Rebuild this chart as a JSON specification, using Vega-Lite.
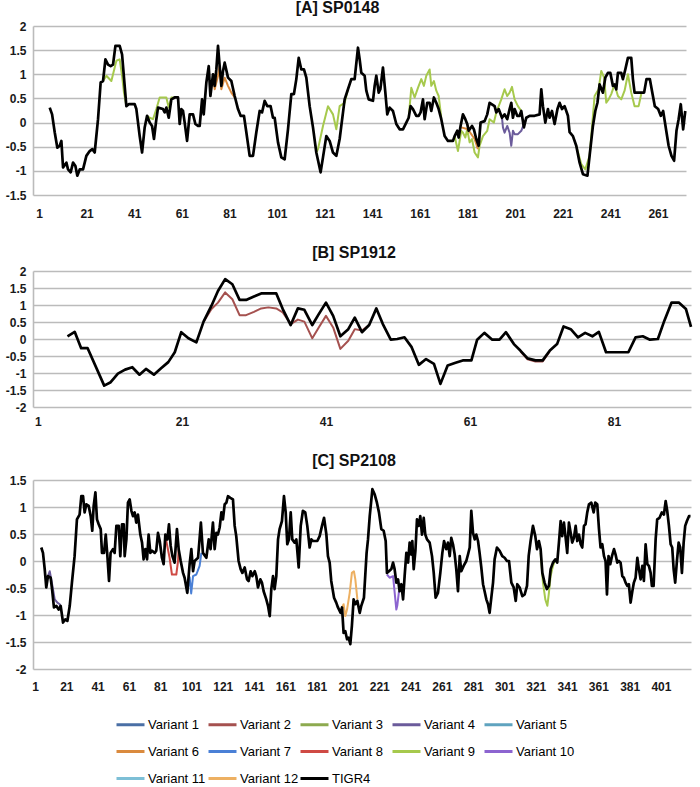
{
"$schema":"https://vega.github.io/schema/vega-lite/v6.json",
"background":"white",
"padding":{"left":5,"top":0,"right":0,"bottom":0},
"spacing":26,
"config":{"view":{"stroke":null},"font":"Liberation Sans",
"axis":{"labelFont":"Liberation Sans","labelFontSize":12,"labelFontWeight":"bold","labelColor":"#1a1a1a","gridColor":"#bbbbbb","gridWidth":1.6,"domainColor":"#bbbbbb","domainWidth":1.6},
"title":{"font":"Liberation Sans","fontSize":16,"fontWeight":"bold","color":"#111"}},
"resolve":{"scale":{"color":"shared"},"legend":{"color":"shared"}},
"data":{"values":[
{"panel":"A","series":"TIGR4","x":5.5,"y":0.31},{"panel":"A","series":"TIGR4","x":6.5,"y":0.17},{"panel":"A","series":"TIGR4","x":7.6,"y":-0.2},{"panel":"A","series":"TIGR4","x":8.7,"y":-0.52},{"panel":"A","series":"TIGR4","x":9.7,"y":-0.48},{"panel":"A","series":"TIGR4","x":10.4,"y":-0.38},{"panel":"A","series":"TIGR4","x":11.1,"y":-0.93},{"panel":"A","series":"TIGR4","x":12.5,"y":-0.83},{"panel":"A","series":"TIGR4","x":13.2,"y":-0.97},{"panel":"A","series":"TIGR4","x":14.3,"y":-1.03},{"panel":"A","series":"TIGR4","x":15.3,"y":-0.83},{"panel":"A","series":"TIGR4","x":16.3,"y":-0.9},{"panel":"A","series":"TIGR4","x":17.1,"y":-1.1},{"panel":"A","series":"TIGR4","x":18.1,"y":-0.97},{"panel":"A","series":"TIGR4","x":19.5,"y":-0.97},{"panel":"A","series":"TIGR4","x":20.9,"y":-0.69},{"panel":"A","series":"TIGR4","x":22.3,"y":-0.59},{"panel":"A","series":"TIGR4","x":23.4,"y":-0.55},{"panel":"A","series":"TIGR4","x":24.4,"y":-0.62},{"panel":"A","series":"TIGR4","x":25.8,"y":0.07},{"panel":"A","series":"TIGR4","x":26.9,"y":0.83},{"panel":"A","series":"TIGR4","x":27.9,"y":0.86},{"panel":"A","series":"TIGR4","x":28.9,"y":1.31},{"panel":"A","series":"TIGR4","x":30,"y":1.2},{"panel":"A","series":"TIGR4","x":31.1,"y":1.17},{"panel":"A","series":"TIGR4","x":32.1,"y":1.2},{"panel":"A","series":"TIGR4","x":33.1,"y":1.59},{"panel":"A","series":"TIGR4","x":34.9,"y":1.59},{"panel":"A","series":"TIGR4","x":35.9,"y":1.41},{"panel":"A","series":"TIGR4","x":36.7,"y":0.93},{"panel":"A","series":"TIGR4","x":37.7,"y":0.34},{"panel":"A","series":"TIGR4","x":38.7,"y":0.38},{"panel":"A","series":"TIGR4","x":41.2,"y":0.38},{"panel":"A","series":"TIGR4","x":41.9,"y":0.28},{"panel":"A","series":"TIGR4","x":43.3,"y":-0.28},{"panel":"A","series":"TIGR4","x":44.3,"y":-0.62},{"panel":"A","series":"TIGR4","x":45.4,"y":-0.1},{"panel":"A","series":"TIGR4","x":46.4,"y":0.14},{"panel":"A","series":"TIGR4","x":47.5,"y":0},{"panel":"A","series":"TIGR4","x":48.5,"y":-0.07},{"panel":"A","series":"TIGR4","x":49.3,"y":-0.34},{"panel":"A","series":"TIGR4","x":50.3,"y":0.07},{"panel":"A","series":"TIGR4","x":51,"y":0.31},{"panel":"A","series":"TIGR4","x":53.1,"y":0.28},{"panel":"A","series":"TIGR4","x":53.8,"y":0.21},{"panel":"A","series":"TIGR4","x":54.5,"y":0.31},{"panel":"A","series":"TIGR4","x":55.5,"y":0.1},{"panel":"A","series":"TIGR4","x":56.6,"y":0.48},{"panel":"A","series":"TIGR4","x":58,"y":0.52},{"panel":"A","series":"TIGR4","x":59.4,"y":0.52},{"panel":"A","series":"TIGR4","x":60.1,"y":-0.03},{"panel":"A","series":"TIGR4","x":60.8,"y":0.28},{"panel":"A","series":"TIGR4","x":61.5,"y":0.24},{"panel":"A","series":"TIGR4","x":62.2,"y":0},{"panel":"A","series":"TIGR4","x":63.2,"y":-0.38},{"panel":"A","series":"TIGR4","x":64.3,"y":0.17},{"panel":"A","series":"TIGR4","x":65.7,"y":0.17},{"panel":"A","series":"TIGR4","x":66.7,"y":-0.03},{"panel":"A","series":"TIGR4","x":67.8,"y":-0.07},{"panel":"A","series":"TIGR4","x":68.5,"y":-0.07},{"panel":"A","series":"TIGR4","x":69.5,"y":0.48},{"panel":"A","series":"TIGR4","x":70.2,"y":0.17},{"panel":"A","series":"TIGR4","x":71.3,"y":0.83},{"panel":"A","series":"TIGR4","x":72.3,"y":1.17},{"panel":"A","series":"TIGR4","x":73,"y":0.55},{"panel":"A","series":"TIGR4","x":74.1,"y":1},{"panel":"A","series":"TIGR4","x":74.8,"y":0.76},{"panel":"A","series":"TIGR4","x":75.5,"y":1.1},{"panel":"A","series":"TIGR4","x":76.2,"y":1.59},{"panel":"A","series":"TIGR4","x":76.9,"y":1.17},{"panel":"A","series":"TIGR4","x":77.6,"y":0.76},{"panel":"A","series":"TIGR4","x":78.3,"y":1.07},{"panel":"A","series":"TIGR4","x":79,"y":1.24},{"panel":"A","series":"TIGR4","x":80.4,"y":0.93},{"panel":"A","series":"TIGR4","x":81.8,"y":0.86},{"panel":"A","series":"TIGR4","x":83.2,"y":0.55},{"panel":"A","series":"TIGR4","x":84.6,"y":0.28},{"panel":"A","series":"TIGR4","x":85.7,"y":0.14},{"panel":"A","series":"TIGR4","x":87.1,"y":0.14},{"panel":"A","series":"TIGR4","x":88.1,"y":-0.2},{"panel":"A","series":"TIGR4","x":89.5,"y":-0.69},{"panel":"A","series":"TIGR4","x":90.9,"y":-0.69},{"panel":"A","series":"TIGR4","x":92.3,"y":-0.2},{"panel":"A","series":"TIGR4","x":93.7,"y":0.24},{"panel":"A","series":"TIGR4","x":94.7,"y":0.21},{"panel":"A","series":"TIGR4","x":95.8,"y":0.45},{"panel":"A","series":"TIGR4","x":96.9,"y":0.34},{"panel":"A","series":"TIGR4","x":98.3,"y":0.34},{"panel":"A","series":"TIGR4","x":99.3,"y":0.1},{"panel":"A","series":"TIGR4","x":100,"y":0.1},{"panel":"A","series":"TIGR4","x":101.4,"y":-0.41},{"panel":"A","series":"TIGR4","x":102.8,"y":-0.72},{"panel":"A","series":"TIGR4","x":104.2,"y":-0.76},{"panel":"A","series":"TIGR4","x":105.6,"y":-0.14},{"panel":"A","series":"TIGR4","x":107,"y":0.59},{"panel":"A","series":"TIGR4","x":108.1,"y":0.59},{"panel":"A","series":"TIGR4","x":109.1,"y":0.9},{"panel":"A","series":"TIGR4","x":110.1,"y":1.34},{"panel":"A","series":"TIGR4","x":111.2,"y":1.1},{"panel":"A","series":"TIGR4","x":112.3,"y":1.1},{"panel":"A","series":"TIGR4","x":113.3,"y":0.93},{"panel":"A","series":"TIGR4","x":114.7,"y":0.34},{"panel":"A","series":"TIGR4","x":116.1,"y":-0.1},{"panel":"A","series":"TIGR4","x":117.5,"y":-0.62},{"panel":"A","series":"TIGR4","x":119.3,"y":-1.03},{"panel":"A","series":"TIGR4","x":120.3,"y":-0.72},{"panel":"A","series":"TIGR4","x":121.7,"y":-0.28},{"panel":"A","series":"TIGR4","x":123.1,"y":-0.38},{"panel":"A","series":"TIGR4","x":124.5,"y":-0.62},{"panel":"A","series":"TIGR4","x":125.9,"y":-0.69},{"panel":"A","series":"TIGR4","x":127.3,"y":-0.34},{"panel":"A","series":"TIGR4","x":129.4,"y":0.48},{"panel":"A","series":"TIGR4","x":130.8,"y":0.69},{"panel":"A","series":"TIGR4","x":132.2,"y":0.9},{"panel":"A","series":"TIGR4","x":133.6,"y":0.9},{"panel":"A","series":"TIGR4","x":135,"y":1.55},{"panel":"A","series":"TIGR4","x":135.7,"y":1.31},{"panel":"A","series":"TIGR4","x":136.4,"y":1.03},{"panel":"A","series":"TIGR4","x":137.8,"y":0.97},{"panel":"A","series":"TIGR4","x":138.5,"y":0.66},{"panel":"A","series":"TIGR4","x":139.5,"y":0.48},{"panel":"A","series":"TIGR4","x":141.3,"y":0.45},{"panel":"A","series":"TIGR4","x":142,"y":0.76},{"panel":"A","series":"TIGR4","x":142.7,"y":0.97},{"panel":"A","series":"TIGR4","x":143.7,"y":0.62},{"panel":"A","series":"TIGR4","x":144.4,"y":0.69},{"panel":"A","series":"TIGR4","x":145.5,"y":1.14},{"panel":"A","series":"TIGR4","x":146.5,"y":0.62},{"panel":"A","series":"TIGR4","x":147.3,"y":0.17},{"panel":"A","series":"TIGR4","x":148.3,"y":0.31},{"panel":"A","series":"TIGR4","x":149.7,"y":0.24},{"panel":"A","series":"TIGR4","x":151.1,"y":-0.03},{"panel":"A","series":"TIGR4","x":152.5,"y":-0.14},{"panel":"A","series":"TIGR4","x":153.9,"y":-0.14},{"panel":"A","series":"TIGR4","x":155.3,"y":0},{"panel":"A","series":"TIGR4","x":156.3,"y":0.1},{"panel":"A","series":"TIGR4","x":157.1,"y":0.34},{"panel":"A","series":"TIGR4","x":158.1,"y":0.28},{"panel":"A","series":"TIGR4","x":159.5,"y":0.14},{"panel":"A","series":"TIGR4","x":160.5,"y":0.14},{"panel":"A","series":"TIGR4","x":161.3,"y":0.21},{"panel":"A","series":"TIGR4","x":162.3,"y":0.48},{"panel":"A","series":"TIGR4","x":163,"y":0.07},{"panel":"A","series":"TIGR4","x":164.1,"y":0.41},{"panel":"A","series":"TIGR4","x":165.1,"y":0.41},{"panel":"A","series":"TIGR4","x":165.8,"y":0.24},{"panel":"A","series":"TIGR4","x":166.9,"y":0.52},{"panel":"A","series":"TIGR4","x":167.9,"y":0.41},{"panel":"A","series":"TIGR4","x":168.9,"y":0.28},{"panel":"A","series":"TIGR4","x":170,"y":0.07},{"panel":"A","series":"TIGR4","x":171.4,"y":-0.28},{"panel":"A","series":"TIGR4","x":172.8,"y":-0.38},{"panel":"A","series":"TIGR4","x":174.9,"y":-0.38},{"panel":"A","series":"TIGR4","x":175.6,"y":-0.28},{"panel":"A","series":"TIGR4","x":176.7,"y":-0.17},{"panel":"A","series":"TIGR4","x":177.3,"y":-0.31},{"panel":"A","series":"TIGR4","x":178.1,"y":-0.07},{"panel":"A","series":"TIGR4","x":179.1,"y":0.17},{"panel":"A","series":"TIGR4","x":180.1,"y":0.07},{"panel":"A","series":"TIGR4","x":180.9,"y":-0.03},{"panel":"A","series":"TIGR4","x":181.5,"y":-0.17},{"panel":"A","series":"TIGR4","x":182.9,"y":-0.07},{"panel":"A","series":"TIGR4","x":183.7,"y":-0.14},{"panel":"A","series":"TIGR4","x":184.7,"y":-0.34},{"panel":"A","series":"TIGR4","x":185.7,"y":-0.48},{"panel":"A","series":"TIGR4","x":186.5,"y":0},{"panel":"A","series":"TIGR4","x":188.2,"y":0.03},{"panel":"A","series":"TIGR4","x":189.3,"y":0.17},{"panel":"A","series":"TIGR4","x":190.3,"y":0.41},{"panel":"A","series":"TIGR4","x":192.4,"y":0.34},{"panel":"A","series":"TIGR4","x":193.1,"y":0.21},{"panel":"A","series":"TIGR4","x":194.1,"y":0.28},{"panel":"A","series":"TIGR4","x":195.5,"y":0.1},{"panel":"A","series":"TIGR4","x":196.6,"y":0.17},{"panel":"A","series":"TIGR4","x":197.7,"y":0.07},{"panel":"A","series":"TIGR4","x":198.7,"y":0.28},{"panel":"A","series":"TIGR4","x":199.4,"y":0.41},{"panel":"A","series":"TIGR4","x":200.1,"y":0.1},{"panel":"A","series":"TIGR4","x":200.8,"y":0.28},{"panel":"A","series":"TIGR4","x":201.9,"y":0.14},{"panel":"A","series":"TIGR4","x":202.9,"y":0.14},{"panel":"A","series":"TIGR4","x":203.6,"y":0.24},{"panel":"A","series":"TIGR4","x":204.7,"y":-0.1},{"panel":"A","series":"TIGR4","x":205.7,"y":0.1},{"panel":"A","series":"TIGR4","x":207.1,"y":0.14},{"panel":"A","series":"TIGR4","x":209.2,"y":0.14},{"panel":"A","series":"TIGR4","x":211.3,"y":0.17},{"panel":"A","series":"TIGR4","x":212,"y":0.69},{"panel":"A","series":"TIGR4","x":212.7,"y":0.34},{"panel":"A","series":"TIGR4","x":213.7,"y":0},{"panel":"A","series":"TIGR4","x":214.8,"y":0.28},{"panel":"A","series":"TIGR4","x":215.5,"y":0.1},{"panel":"A","series":"TIGR4","x":216.5,"y":0.24},{"panel":"A","series":"TIGR4","x":217.6,"y":-0.03},{"panel":"A","series":"TIGR4","x":218.8,"y":0.28},{"panel":"A","series":"TIGR4","x":219.7,"y":0.41},{"panel":"A","series":"TIGR4","x":220.7,"y":0.28},{"panel":"A","series":"TIGR4","x":221.8,"y":0.34},{"panel":"A","series":"TIGR4","x":223.2,"y":0.14},{"panel":"A","series":"TIGR4","x":223.9,"y":-0.2},{"panel":"A","series":"TIGR4","x":225.3,"y":-0.28},{"panel":"A","series":"TIGR4","x":226.7,"y":-0.48},{"panel":"A","series":"TIGR4","x":228.1,"y":-0.83},{"panel":"A","series":"TIGR4","x":229.5,"y":-1.07},{"panel":"A","series":"TIGR4","x":231.4,"y":-1.1},{"panel":"A","series":"TIGR4","x":232.3,"y":-0.69},{"panel":"A","series":"TIGR4","x":233.7,"y":-0.07},{"panel":"A","series":"TIGR4","x":234.7,"y":0.24},{"panel":"A","series":"TIGR4","x":235.6,"y":0.41},{"panel":"A","series":"TIGR4","x":236.5,"y":0.79},{"panel":"A","series":"TIGR4","x":237.9,"y":0.62},{"panel":"A","series":"TIGR4","x":238.9,"y":0.93},{"panel":"A","series":"TIGR4","x":240,"y":1.03},{"panel":"A","series":"TIGR4","x":241,"y":1.03},{"panel":"A","series":"TIGR4","x":242.1,"y":0.76},{"panel":"A","series":"TIGR4","x":242.8,"y":0.79},{"panel":"A","series":"TIGR4","x":243.5,"y":0.69},{"panel":"A","series":"TIGR4","x":244.2,"y":1.03},{"panel":"A","series":"TIGR4","x":245.6,"y":1.03},{"panel":"A","series":"TIGR4","x":246.3,"y":0.9},{"panel":"A","series":"TIGR4","x":247.3,"y":1.1},{"panel":"A","series":"TIGR4","x":248.4,"y":1.34},{"panel":"A","series":"TIGR4","x":249.8,"y":1.34},{"panel":"A","series":"TIGR4","x":250.5,"y":0.9},{"panel":"A","series":"TIGR4","x":251.2,"y":0.62},{"panel":"A","series":"TIGR4","x":253.3,"y":0.62},{"panel":"A","series":"TIGR4","x":255.2,"y":0.62},{"panel":"A","series":"TIGR4","x":256.2,"y":0.9},{"panel":"A","series":"TIGR4","x":257.6,"y":0.9},{"panel":"A","series":"TIGR4","x":258.5,"y":0.66},{"panel":"A","series":"TIGR4","x":259.7,"y":0.34},{"panel":"A","series":"TIGR4","x":261.1,"y":0.28},{"panel":"A","series":"TIGR4","x":262.2,"y":0.14},{"panel":"A","series":"TIGR4","x":263.2,"y":0.24},{"panel":"A","series":"TIGR4","x":264.6,"y":-0.2},{"panel":"A","series":"TIGR4","x":265.5,"y":-0.48},{"panel":"A","series":"TIGR4","x":266.7,"y":-0.69},{"panel":"A","series":"TIGR4","x":267.8,"y":-0.79},{"panel":"A","series":"TIGR4","x":268.8,"y":-0.17},{"panel":"A","series":"TIGR4","x":269.7,"y":0.07},{"panel":"A","series":"TIGR4","x":270.6,"y":0.38},{"panel":"A","series":"TIGR4","x":271.6,"y":-0.14},{"panel":"A","series":"TIGR4","x":272.5,"y":0.24},
{"panel":"A","series":"Variant 9","seg":"A1","x":27.9,"y":0.86},{"panel":"A","series":"Variant 9","seg":"A1","x":29.3,"y":0.97},{"panel":"A","series":"Variant 9","seg":"A1","x":31.4,"y":0.86},{"panel":"A","series":"Variant 9","seg":"A1","x":33.5,"y":1.28},{"panel":"A","series":"Variant 9","seg":"A1","x":34.9,"y":1.31},{"panel":"A","series":"Variant 9","seg":"A1","x":35.9,"y":0.97},{"panel":"A","series":"Variant 9","seg":"A1","x":36.7,"y":0.62},{"panel":"A","series":"Variant 9","seg":"A1","x":37.7,"y":0.34},
{"panel":"A","series":"Variant 9","seg":"A2","x":46.4,"y":0.14},{"panel":"A","series":"Variant 9","seg":"A2","x":47.5,"y":0.1},{"panel":"A","series":"Variant 9","seg":"A2","x":48.9,"y":0.07},{"panel":"A","series":"Variant 9","seg":"A2","x":50.3,"y":0.28},{"panel":"A","series":"Variant 9","seg":"A2","x":51.7,"y":0.52},{"panel":"A","series":"Variant 9","seg":"A2","x":54.5,"y":0.52},{"panel":"A","series":"Variant 9","seg":"A2","x":55.5,"y":0.31},{"panel":"A","series":"Variant 9","seg":"A2","x":56.6,"y":0.52},{"panel":"A","series":"Variant 9","seg":"A2","x":58,"y":0.52},
{"panel":"A","series":"Variant 6","seg":"A3","x":74.1,"y":1},{"panel":"A","series":"Variant 6","seg":"A3","x":74.8,"y":0.69},{"panel":"A","series":"Variant 6","seg":"A3","x":76.2,"y":0.97},{"panel":"A","series":"Variant 6","seg":"A3","x":76.9,"y":1.17},{"panel":"A","series":"Variant 6","seg":"A3","x":77.6,"y":0.69},{"panel":"A","series":"Variant 6","seg":"A3","x":79,"y":0.93},{"panel":"A","series":"Variant 6","seg":"A3","x":80.4,"y":0.76},{"panel":"A","series":"Variant 6","seg":"A3","x":81.8,"y":0.62},{"panel":"A","series":"Variant 6","seg":"A3","x":83.2,"y":0.52},
{"panel":"A","series":"Variant 9","seg":"A4","x":117.5,"y":-0.62},{"panel":"A","series":"Variant 9","seg":"A4","x":118.2,"y":-0.55},{"panel":"A","series":"Variant 9","seg":"A4","x":120.3,"y":-0.07},{"panel":"A","series":"Variant 9","seg":"A4","x":122.4,"y":0.34},{"panel":"A","series":"Variant 9","seg":"A4","x":124.5,"y":0.17},{"panel":"A","series":"Variant 9","seg":"A4","x":125.9,"y":-0.14},{"panel":"A","series":"Variant 9","seg":"A4","x":127.3,"y":0.34},{"panel":"A","series":"Variant 9","seg":"A4","x":129.4,"y":0.41},{"panel":"A","series":"Variant 9","seg":"A4","x":130.8,"y":0.69},
{"panel":"A","series":"Variant 9","seg":"A5","x":156.3,"y":0.1},{"panel":"A","series":"Variant 9","seg":"A5","x":157.4,"y":0.72},{"panel":"A","series":"Variant 9","seg":"A5","x":158.8,"y":0.52},{"panel":"A","series":"Variant 9","seg":"A5","x":160.2,"y":0.72},{"panel":"A","series":"Variant 9","seg":"A5","x":161.6,"y":0.9},{"panel":"A","series":"Variant 9","seg":"A5","x":162.7,"y":0.76},{"panel":"A","series":"Variant 9","seg":"A5","x":163.7,"y":0.97},{"panel":"A","series":"Variant 9","seg":"A5","x":165.1,"y":1.1},{"panel":"A","series":"Variant 9","seg":"A5","x":165.8,"y":0.76},{"panel":"A","series":"Variant 9","seg":"A5","x":166.9,"y":0.86},{"panel":"A","series":"Variant 9","seg":"A5","x":167.9,"y":0.66},{"panel":"A","series":"Variant 9","seg":"A5","x":168.9,"y":0.55},{"panel":"A","series":"Variant 9","seg":"A5","x":170,"y":0.1},
{"panel":"A","series":"Variant 9","seg":"A6","x":175.6,"y":-0.28},{"panel":"A","series":"Variant 9","seg":"A6","x":177,"y":-0.59},{"panel":"A","series":"Variant 9","seg":"A6","x":178.4,"y":-0.17},{"panel":"A","series":"Variant 9","seg":"A6","x":179.1,"y":-0.21},{"panel":"A","series":"Variant 9","seg":"A6","x":180.1,"y":-0.31},{"panel":"A","series":"Variant 9","seg":"A6","x":180.9,"y":-0.14},{"panel":"A","series":"Variant 9","seg":"A6","x":181.9,"y":-0.41},{"panel":"A","series":"Variant 9","seg":"A6","x":182.9,"y":-0.34},{"panel":"A","series":"Variant 9","seg":"A6","x":184,"y":-0.62},{"panel":"A","series":"Variant 9","seg":"A6","x":185.4,"y":-0.72},{"panel":"A","series":"Variant 9","seg":"A6","x":186.1,"y":-0.48},{"panel":"A","series":"Variant 9","seg":"A6","x":187.5,"y":-0.28},{"panel":"A","series":"Variant 9","seg":"A6","x":189.3,"y":-0.17},{"panel":"A","series":"Variant 9","seg":"A6","x":190.3,"y":0.07},{"panel":"A","series":"Variant 9","seg":"A6","x":192.1,"y":0},{"panel":"A","series":"Variant 9","seg":"A6","x":193.1,"y":0.21},{"panel":"A","series":"Variant 9","seg":"A6","x":195.2,"y":0.48},{"panel":"A","series":"Variant 9","seg":"A6","x":196.6,"y":0.69},{"panel":"A","series":"Variant 9","seg":"A6","x":197.7,"y":0.55},{"panel":"A","series":"Variant 9","seg":"A6","x":198.7,"y":0.62},{"panel":"A","series":"Variant 9","seg":"A6","x":199.7,"y":0.74},{"panel":"A","series":"Variant 9","seg":"A6","x":200.8,"y":0.48},{"panel":"A","series":"Variant 9","seg":"A6","x":202.2,"y":0.34},{"panel":"A","series":"Variant 9","seg":"A6","x":203.6,"y":0.24},
{"panel":"A","series":"Variant 6","seg":"A7","x":178.4,"y":-0.1},{"panel":"A","series":"Variant 6","seg":"A7","x":181.2,"y":-0.14},{"panel":"A","series":"Variant 6","seg":"A7","x":184,"y":-0.34},{"panel":"A","series":"Variant 6","seg":"A7","x":185.4,"y":-0.55},
{"panel":"A","series":"Variant 4","seg":"A8","x":195.5,"y":0.1},{"panel":"A","series":"Variant 4","seg":"A8","x":195.9,"y":-0.1},{"panel":"A","series":"Variant 4","seg":"A8","x":196.6,"y":-0.21},{"panel":"A","series":"Variant 4","seg":"A8","x":197.7,"y":-0.07},{"panel":"A","series":"Variant 4","seg":"A8","x":198.7,"y":-0.21},{"panel":"A","series":"Variant 4","seg":"A8","x":199.4,"y":-0.48},{"panel":"A","series":"Variant 4","seg":"A8","x":200.1,"y":-0.17},{"panel":"A","series":"Variant 4","seg":"A8","x":200.8,"y":-0.24},{"panel":"A","series":"Variant 4","seg":"A8","x":202.2,"y":-0.24},{"panel":"A","series":"Variant 4","seg":"A8","x":203.6,"y":-0.17},{"panel":"A","series":"Variant 4","seg":"A8","x":204.7,"y":-0.03},
{"panel":"A","series":"Variant 9","seg":"A9","x":226.7,"y":-0.48},{"panel":"A","series":"Variant 9","seg":"A9","x":228.8,"y":-0.86},{"panel":"A","series":"Variant 9","seg":"A9","x":230.5,"y":-0.97},{"panel":"A","series":"Variant 9","seg":"A9","x":232.3,"y":-0.69},{"panel":"A","series":"Variant 9","seg":"A9","x":234.4,"y":0.55},{"panel":"A","series":"Variant 9","seg":"A9","x":236.1,"y":0.69},{"panel":"A","series":"Variant 9","seg":"A9","x":237.2,"y":1.07},{"panel":"A","series":"Variant 9","seg":"A9","x":238.4,"y":0.93},{"panel":"A","series":"Variant 9","seg":"A9","x":239.3,"y":0.41},{"panel":"A","series":"Variant 9","seg":"A9","x":240.3,"y":0.48},{"panel":"A","series":"Variant 9","seg":"A9","x":241.4,"y":0.59},{"panel":"A","series":"Variant 9","seg":"A9","x":242.8,"y":0.79},{"panel":"A","series":"Variant 9","seg":"A9","x":244.2,"y":0.55},{"panel":"A","series":"Variant 9","seg":"A9","x":245.6,"y":0.48},{"panel":"A","series":"Variant 9","seg":"A9","x":247,"y":0.66},{"panel":"A","series":"Variant 9","seg":"A9","x":248.4,"y":1},{"panel":"A","series":"Variant 9","seg":"A9","x":249.8,"y":0.62},{"panel":"A","series":"Variant 9","seg":"A9","x":251.2,"y":0.34},{"panel":"A","series":"Variant 9","seg":"A9","x":252.9,"y":0.34},{"panel":"A","series":"Variant 9","seg":"A9","x":254,"y":0.59},
{"panel":"B","series":"TIGR4","x":5.1,"y":0.08},{"panel":"B","series":"TIGR4","x":6.1,"y":0.21},{"panel":"B","series":"TIGR4","x":7,"y":-0.27},{"panel":"B","series":"TIGR4","x":7.9,"y":-0.27},{"panel":"B","series":"TIGR4","x":10.2,"y":-1.37},{"panel":"B","series":"TIGR4","x":11.1,"y":-1.27},{"panel":"B","series":"TIGR4","x":12.1,"y":-1.02},{"panel":"B","series":"TIGR4","x":13.1,"y":-0.9},{"panel":"B","series":"TIGR4","x":14.1,"y":-0.83},{"panel":"B","series":"TIGR4","x":15.1,"y":-1.05},{"panel":"B","series":"TIGR4","x":16,"y":-0.88},{"panel":"B","series":"TIGR4","x":17.1,"y":-1.05},{"panel":"B","series":"TIGR4","x":18.1,"y":-0.86},{"panel":"B","series":"TIGR4","x":19.1,"y":-0.68},{"panel":"B","series":"TIGR4","x":20,"y":-0.39},{"panel":"B","series":"TIGR4","x":20.9,"y":0.2},{"panel":"B","series":"TIGR4","x":21.9,"y":0.02},{"panel":"B","series":"TIGR4","x":23,"y":-0.1},{"panel":"B","series":"TIGR4","x":24,"y":0.51},{"panel":"B","series":"TIGR4","x":25.1,"y":0.98},{"panel":"B","series":"TIGR4","x":26,"y":1.41},{"panel":"B","series":"TIGR4","x":27,"y":1.76},{"panel":"B","series":"TIGR4","x":28,"y":1.61},{"panel":"B","series":"TIGR4","x":29,"y":1.15},{"panel":"B","series":"TIGR4","x":29.9,"y":1.15},{"panel":"B","series":"TIGR4","x":31,"y":1.25},{"panel":"B","series":"TIGR4","x":32,"y":1.34},{"panel":"B","series":"TIGR4","x":33,"y":1.34},{"panel":"B","series":"TIGR4","x":34.1,"y":1.34},{"panel":"B","series":"TIGR4","x":35,"y":0.88},{"panel":"B","series":"TIGR4","x":36.1,"y":0.41},{"panel":"B","series":"TIGR4","x":37.1,"y":0.9},{"panel":"B","series":"TIGR4","x":38,"y":0.86},{"panel":"B","series":"TIGR4","x":39.1,"y":0.41},{"panel":"B","series":"TIGR4","x":40,"y":0.73},{"panel":"B","series":"TIGR4","x":41,"y":1.07},{"panel":"B","series":"TIGR4","x":42,"y":0.68},{"panel":"B","series":"TIGR4","x":43,"y":0.08},{"panel":"B","series":"TIGR4","x":44.1,"y":0.29},{"panel":"B","series":"TIGR4","x":45,"y":0.63},{"panel":"B","series":"TIGR4","x":46,"y":0.2},{"panel":"B","series":"TIGR4","x":47,"y":0.41},{"panel":"B","series":"TIGR4","x":48,"y":0.9},{"panel":"B","series":"TIGR4","x":48.9,"y":0.44},{"panel":"B","series":"TIGR4","x":50,"y":-0.02},{"panel":"B","series":"TIGR4","x":50.9,"y":0},{"panel":"B","series":"TIGR4","x":51.9,"y":0.05},{"panel":"B","series":"TIGR4","x":52.9,"y":-0.24},{"panel":"B","series":"TIGR4","x":53.9,"y":-0.76},{"panel":"B","series":"TIGR4","x":54.9,"y":-0.59},{"panel":"B","series":"TIGR4","x":56,"y":-0.73},{"panel":"B","series":"TIGR4","x":56.9,"y":-1.32},{"panel":"B","series":"TIGR4","x":57.9,"y":-0.78},{"panel":"B","series":"TIGR4","x":59,"y":-0.7},{"panel":"B","series":"TIGR4","x":60,"y":-0.63},{"panel":"B","series":"TIGR4","x":61.2,"y":-0.63},{"panel":"B","series":"TIGR4","x":62,"y":-0.02},{"panel":"B","series":"TIGR4","x":63,"y":0.18},{"panel":"B","series":"TIGR4","x":64.1,"y":-0.02},{"panel":"B","series":"TIGR4","x":65.1,"y":-0.02},{"panel":"B","series":"TIGR4","x":66,"y":0.2},{"panel":"B","series":"TIGR4","x":67.1,"y":-0.15},{"panel":"B","series":"TIGR4","x":68,"y":-0.34},{"panel":"B","series":"TIGR4","x":69,"y":-0.57},{"panel":"B","series":"TIGR4","x":70.1,"y":-0.63},{"panel":"B","series":"TIGR4","x":71.1,"y":-0.63},{"panel":"B","series":"TIGR4","x":72.1,"y":-0.34},{"panel":"B","series":"TIGR4","x":73.1,"y":-0.15},{"panel":"B","series":"TIGR4","x":74,"y":0.37},{"panel":"B","series":"TIGR4","x":75,"y":0.29},{"panel":"B","series":"TIGR4","x":76,"y":0.05},{"panel":"B","series":"TIGR4","x":77,"y":0.18},{"panel":"B","series":"TIGR4","x":78,"y":0.08},{"panel":"B","series":"TIGR4","x":78.9,"y":0.21},{"panel":"B","series":"TIGR4","x":79.9,"y":-0.39},{"panel":"B","series":"TIGR4","x":81,"y":-0.39},{"panel":"B","series":"TIGR4","x":82,"y":-0.39},{"panel":"B","series":"TIGR4","x":83,"y":-0.39},{"panel":"B","series":"TIGR4","x":84,"y":0.05},{"panel":"B","series":"TIGR4","x":85,"y":0.08},{"panel":"B","series":"TIGR4","x":86,"y":-0.02},{"panel":"B","series":"TIGR4","x":87.1,"y":0},{"panel":"B","series":"TIGR4","x":88,"y":0.54},{"panel":"B","series":"TIGR4","x":89,"y":1.07},{"panel":"B","series":"TIGR4","x":90,"y":1.07},{"panel":"B","series":"TIGR4","x":91,"y":0.88},{"panel":"B","series":"TIGR4","x":91.7,"y":0.36},
{"panel":"B","series":"Variant 2","seg":"B1","x":24,"y":0.51},{"panel":"B","series":"Variant 2","seg":"B1","x":25.1,"y":0.88},{"panel":"B","series":"Variant 2","seg":"B1","x":26,"y":1.07},{"panel":"B","series":"Variant 2","seg":"B1","x":27,"y":1.37},{"panel":"B","series":"Variant 2","seg":"B1","x":28,"y":1.17},{"panel":"B","series":"Variant 2","seg":"B1","x":29,"y":0.7},{"panel":"B","series":"Variant 2","seg":"B1","x":29.9,"y":0.7},{"panel":"B","series":"Variant 2","seg":"B1","x":31,"y":0.8},{"panel":"B","series":"Variant 2","seg":"B1","x":32,"y":0.9},{"panel":"B","series":"Variant 2","seg":"B1","x":33,"y":0.93},{"panel":"B","series":"Variant 2","seg":"B1","x":34.1,"y":0.9},{"panel":"B","series":"Variant 2","seg":"B1","x":35,"y":0.78},{"panel":"B","series":"Variant 2","seg":"B1","x":36.1,"y":0.44},{"panel":"B","series":"Variant 2","seg":"B1","x":37.1,"y":0.57},{"panel":"B","series":"Variant 2","seg":"B1","x":38,"y":0.51},{"panel":"B","series":"Variant 2","seg":"B1","x":39.1,"y":0.02},{"panel":"B","series":"Variant 2","seg":"B1","x":40,"y":0.34},{"panel":"B","series":"Variant 2","seg":"B1","x":41,"y":0.68},{"panel":"B","series":"Variant 2","seg":"B1","x":42,"y":0.34},{"panel":"B","series":"Variant 2","seg":"B1","x":43,"y":-0.29},{"panel":"B","series":"Variant 2","seg":"B1","x":44.1,"y":-0.05},{"panel":"B","series":"Variant 2","seg":"B1","x":45,"y":0.29},{"panel":"B","series":"Variant 2","seg":"B1","x":46,"y":0.25},{"panel":"B","series":"Variant 2","seg":"B1","x":47,"y":0.41},
{"panel":"B","series":"Variant 2","seg":"B2","x":68,"y":-0.36},{"panel":"B","series":"Variant 2","seg":"B2","x":69,"y":-0.6},{"panel":"B","series":"Variant 2","seg":"B2","x":70.1,"y":-0.66},{"panel":"B","series":"Variant 2","seg":"B2","x":71.1,"y":-0.66},{"panel":"B","series":"Variant 2","seg":"B2","x":72.1,"y":-0.36},
{"panel":"C","series":"TIGR4","x":5,"y":0.25},{"panel":"C","series":"TIGR4","x":6.1,"y":0.15},{"panel":"C","series":"TIGR4","x":7.2,"y":-0.15},{"panel":"C","series":"TIGR4","x":8.2,"y":-0.49},{"panel":"C","series":"TIGR4","x":9.3,"y":-0.28},{"panel":"C","series":"TIGR4","x":11,"y":-0.31},{"panel":"C","series":"TIGR4","x":11.9,"y":-0.52},{"panel":"C","series":"TIGR4","x":13.1,"y":-0.86},{"panel":"C","series":"TIGR4","x":14.6,"y":-0.83},{"panel":"C","series":"TIGR4","x":16.1,"y":-0.9},{"panel":"C","series":"TIGR4","x":17.4,"y":-0.83},{"panel":"C","series":"TIGR4","x":18.9,"y":-1.14},{"panel":"C","series":"TIGR4","x":20.4,"y":-1.08},{"panel":"C","series":"TIGR4","x":21.7,"y":-1.11},{"panel":"C","series":"TIGR4","x":23.2,"y":-0.83},{"panel":"C","series":"TIGR4","x":24.6,"y":-0.4},{"panel":"C","series":"TIGR4","x":26.3,"y":0.09},{"panel":"C","series":"TIGR4","x":27.8,"y":0.77},{"panel":"C","series":"TIGR4","x":29.5,"y":0.86},{"panel":"C","series":"TIGR4","x":30.6,"y":1.2},{"panel":"C","series":"TIGR4","x":31.7,"y":1.2},{"panel":"C","series":"TIGR4","x":32.7,"y":0.9},{"panel":"C","series":"TIGR4","x":33.8,"y":1.05},{"panel":"C","series":"TIGR4","x":35.3,"y":1.02},{"panel":"C","series":"TIGR4","x":36.6,"y":0.83},{"panel":"C","series":"TIGR4","x":37.6,"y":0.56},{"panel":"C","series":"TIGR4","x":38.5,"y":1.02},{"panel":"C","series":"TIGR4","x":39.6,"y":1.27},{"panel":"C","series":"TIGR4","x":40.6,"y":0.77},{"panel":"C","series":"TIGR4","x":41.7,"y":0.68},{"panel":"C","series":"TIGR4","x":43,"y":0.59},{"panel":"C","series":"TIGR4","x":43.8,"y":0.15},{"panel":"C","series":"TIGR4","x":45.1,"y":0.15},{"panel":"C","series":"TIGR4","x":46.2,"y":0.49},{"panel":"C","series":"TIGR4","x":47.2,"y":0.12},{"panel":"C","series":"TIGR4","x":48.3,"y":-0.37},{"panel":"C","series":"TIGR4","x":49.3,"y":0.15},{"panel":"C","series":"TIGR4","x":50.8,"y":0.22},{"panel":"C","series":"TIGR4","x":51.9,"y":0.15},{"panel":"C","series":"TIGR4","x":53,"y":0.65},{"panel":"C","series":"TIGR4","x":54.5,"y":0.65},{"panel":"C","series":"TIGR4","x":55.5,"y":0.09},{"panel":"C","series":"TIGR4","x":56.6,"y":0.68},{"panel":"C","series":"TIGR4","x":57.7,"y":0.68},{"panel":"C","series":"TIGR4","x":58.3,"y":0.09},{"panel":"C","series":"TIGR4","x":59.4,"y":0.4},{"panel":"C","series":"TIGR4","x":60.4,"y":1.08},{"panel":"C","series":"TIGR4","x":61.5,"y":1.14},{"panel":"C","series":"TIGR4","x":62.6,"y":0.93},{"panel":"C","series":"TIGR4","x":63.6,"y":0.83},{"panel":"C","series":"TIGR4","x":64.7,"y":0.9},{"panel":"C","series":"TIGR4","x":65.7,"y":0.71},{"panel":"C","series":"TIGR4","x":66.8,"y":0.86},{"panel":"C","series":"TIGR4","x":68.3,"y":0.49},{"panel":"C","series":"TIGR4","x":69.4,"y":0.34},{"panel":"C","series":"TIGR4","x":70.4,"y":0.03},{"panel":"C","series":"TIGR4","x":71.5,"y":0.22},{"panel":"C","series":"TIGR4","x":72.6,"y":0.03},{"panel":"C","series":"TIGR4","x":73.6,"y":0.49},{"panel":"C","series":"TIGR4","x":74.7,"y":0.15},{"panel":"C","series":"TIGR4","x":75.8,"y":0.19},{"panel":"C","series":"TIGR4","x":77.5,"y":0.15},{"panel":"C","series":"TIGR4","x":78.5,"y":0.19},{"panel":"C","series":"TIGR4","x":79.6,"y":0.52},{"panel":"C","series":"TIGR4","x":80.7,"y":0.37},{"panel":"C","series":"TIGR4","x":82.1,"y":0.06},{"panel":"C","series":"TIGR4","x":83.2,"y":-0.06},{"panel":"C","series":"TIGR4","x":84.3,"y":0.49},{"panel":"C","series":"TIGR4","x":85.6,"y":0.4},{"panel":"C","series":"TIGR4","x":86.6,"y":0.68},{"panel":"C","series":"TIGR4","x":87.7,"y":0.28},{"panel":"C","series":"TIGR4","x":88.8,"y":0.09},{"panel":"C","series":"TIGR4","x":90.2,"y":-0.03},{"panel":"C","series":"TIGR4","x":91.7,"y":0.59},{"panel":"C","series":"TIGR4","x":92.8,"y":0.22},{"panel":"C","series":"TIGR4","x":94.1,"y":0},{"panel":"C","series":"TIGR4","x":95.6,"y":-0.22},{"panel":"C","series":"TIGR4","x":96.6,"y":-0.31},{"panel":"C","series":"TIGR4","x":98.3,"y":-0.59},{"panel":"C","series":"TIGR4","x":99.8,"y":-0.06},{"panel":"C","series":"TIGR4","x":100.9,"y":0.22},{"panel":"C","series":"TIGR4","x":102,"y":-0.19},{"panel":"C","series":"TIGR4","x":103,"y":0},{"panel":"C","series":"TIGR4","x":105.2,"y":0.06},{"panel":"C","series":"TIGR4","x":107,"y":0.71},{"panel":"C","series":"TIGR4","x":108.3,"y":0.15},{"panel":"C","series":"TIGR4","x":110.5,"y":0.06},{"panel":"C","series":"TIGR4","x":112,"y":0.4},{"panel":"C","series":"TIGR4","x":113.2,"y":0.22},{"panel":"C","series":"TIGR4","x":114.7,"y":0.71},{"panel":"C","series":"TIGR4","x":115.8,"y":0.22},{"panel":"C","series":"TIGR4","x":116.9,"y":0.52},{"panel":"C","series":"TIGR4","x":117.9,"y":0.49},{"panel":"C","series":"TIGR4","x":119,"y":0.62},{"panel":"C","series":"TIGR4","x":120.1,"y":0.9},{"panel":"C","series":"TIGR4","x":121.1,"y":0.77},{"panel":"C","series":"TIGR4","x":122.2,"y":1.05},{"panel":"C","series":"TIGR4","x":123.3,"y":1.08},{"panel":"C","series":"TIGR4","x":124.3,"y":1.2},{"panel":"C","series":"TIGR4","x":125.8,"y":1.17},{"panel":"C","series":"TIGR4","x":127.5,"y":1.14},{"panel":"C","series":"TIGR4","x":128.6,"y":0.65},{"panel":"C","series":"TIGR4","x":129.6,"y":0.46},{"panel":"C","series":"TIGR4","x":131.1,"y":0},{"panel":"C","series":"TIGR4","x":132.4,"y":-0.15},{"panel":"C","series":"TIGR4","x":133.5,"y":-0.22},{"panel":"C","series":"TIGR4","x":135,"y":-0.12},{"panel":"C","series":"TIGR4","x":136.5,"y":-0.34},{"panel":"C","series":"TIGR4","x":137.5,"y":-0.37},{"panel":"C","series":"TIGR4","x":138.8,"y":-0.19},{"panel":"C","series":"TIGR4","x":139.9,"y":-0.28},{"panel":"C","series":"TIGR4","x":141.4,"y":-0.19},{"panel":"C","series":"TIGR4","x":142.4,"y":-0.28},{"panel":"C","series":"TIGR4","x":143.5,"y":-0.49},{"panel":"C","series":"TIGR4","x":145,"y":-0.34},{"panel":"C","series":"TIGR4","x":146,"y":-0.4},{"panel":"C","series":"TIGR4","x":147.1,"y":-0.56},{"panel":"C","series":"TIGR4","x":148.8,"y":-0.71},{"panel":"C","series":"TIGR4","x":149.9,"y":-0.83},{"panel":"C","series":"TIGR4","x":151,"y":-1.02},{"panel":"C","series":"TIGR4","x":152,"y":-0.52},{"panel":"C","series":"TIGR4","x":153.1,"y":-0.28},{"panel":"C","series":"TIGR4","x":154.1,"y":-0.52},{"panel":"C","series":"TIGR4","x":155.2,"y":-0.28},{"panel":"C","series":"TIGR4","x":156.3,"y":0.4},{"panel":"C","series":"TIGR4","x":157.3,"y":0.59},{"panel":"C","series":"TIGR4","x":158.8,"y":0.74},{"panel":"C","series":"TIGR4","x":160.1,"y":1.2},{"panel":"C","series":"TIGR4","x":161.2,"y":0.9},{"panel":"C","series":"TIGR4","x":162.2,"y":0.31},{"panel":"C","series":"TIGR4","x":163.3,"y":0.4},{"panel":"C","series":"TIGR4","x":164.4,"y":0.9},{"panel":"C","series":"TIGR4","x":165.4,"y":0.4},{"panel":"C","series":"TIGR4","x":166.9,"y":0.34},{"panel":"C","series":"TIGR4","x":168,"y":0.4},{"panel":"C","series":"TIGR4","x":169.5,"y":-0.12},{"panel":"C","series":"TIGR4","x":170.8,"y":0.65},{"panel":"C","series":"TIGR4","x":172.2,"y":0.93},{"panel":"C","series":"TIGR4","x":173.7,"y":0.9},{"panel":"C","series":"TIGR4","x":175,"y":0.65},{"panel":"C","series":"TIGR4","x":176.5,"y":0.25},{"panel":"C","series":"TIGR4","x":177.6,"y":0.4},{"panel":"C","series":"TIGR4","x":178.6,"y":0.37},{"panel":"C","series":"TIGR4","x":180.1,"y":0.37},{"panel":"C","series":"TIGR4","x":181.4,"y":0.37},{"panel":"C","series":"TIGR4","x":182.9,"y":0.46},{"panel":"C","series":"TIGR4","x":184.4,"y":0.65},{"panel":"C","series":"TIGR4","x":185.7,"y":0.8},{"panel":"C","series":"TIGR4","x":187.2,"y":0.49},{"panel":"C","series":"TIGR4","x":188.2,"y":0.09},{"panel":"C","series":"TIGR4","x":189.3,"y":-0.03},{"panel":"C","series":"TIGR4","x":190.3,"y":-0.37},{"panel":"C","series":"TIGR4","x":192.1,"y":-0.68},{"panel":"C","series":"TIGR4","x":193.5,"y":-0.77},{"panel":"C","series":"TIGR4","x":194.6,"y":-0.86},{"panel":"C","series":"TIGR4","x":196.3,"y":-0.96},{"panel":"C","series":"TIGR4","x":197.2,"y":-0.86},{"panel":"C","series":"TIGR4","x":198.2,"y":-1.33},{"panel":"C","series":"TIGR4","x":199.3,"y":-1.3},{"panel":"C","series":"TIGR4","x":200.4,"y":-1.45},{"panel":"C","series":"TIGR4","x":201.4,"y":-1.42},{"panel":"C","series":"TIGR4","x":202.5,"y":-1.54},{"panel":"C","series":"TIGR4","x":203.5,"y":-1.2},{"panel":"C","series":"TIGR4","x":204.6,"y":-0.71},{"panel":"C","series":"TIGR4","x":205.7,"y":-0.8},{"panel":"C","series":"TIGR4","x":207,"y":-0.74},{"panel":"C","series":"TIGR4","x":208.5,"y":-0.96},{"panel":"C","series":"TIGR4","x":209.5,"y":-0.83},{"panel":"C","series":"TIGR4","x":211.2,"y":-0.68},{"panel":"C","series":"TIGR4","x":212.9,"y":0.15},{"panel":"C","series":"TIGR4","x":213.8,"y":0.4},{"panel":"C","series":"TIGR4","x":214.9,"y":0.83},{"panel":"C","series":"TIGR4","x":216.6,"y":1.33},{"panel":"C","series":"TIGR4","x":218.1,"y":1.23},{"panel":"C","series":"TIGR4","x":219.5,"y":1.08},{"panel":"C","series":"TIGR4","x":220.8,"y":0.9},{"panel":"C","series":"TIGR4","x":222.3,"y":0.59},{"panel":"C","series":"TIGR4","x":223.8,"y":0.56},{"panel":"C","series":"TIGR4","x":225.1,"y":0.37},{"panel":"C","series":"TIGR4","x":225.9,"y":-0.22},{"panel":"C","series":"TIGR4","x":227.2,"y":-0.19},{"panel":"C","series":"TIGR4","x":228.7,"y":-0.15},{"panel":"C","series":"TIGR4","x":229.8,"y":-0.03},{"panel":"C","series":"TIGR4","x":230.8,"y":-0.15},{"panel":"C","series":"TIGR4","x":231.9,"y":-0.4},{"panel":"C","series":"TIGR4","x":233,"y":-0.34},{"panel":"C","series":"TIGR4","x":234,"y":-0.56},{"panel":"C","series":"TIGR4","x":235.1,"y":-0.43},{"panel":"C","series":"TIGR4","x":236.2,"y":-0.71},{"panel":"C","series":"TIGR4","x":237.2,"y":-0.28},{"panel":"C","series":"TIGR4","x":238.3,"y":0.15},{"panel":"C","series":"TIGR4","x":239.4,"y":-0.03},{"panel":"C","series":"TIGR4","x":240.4,"y":0.34},{"panel":"C","series":"TIGR4","x":241.5,"y":0.12},{"panel":"C","series":"TIGR4","x":242.1,"y":0.37},{"panel":"C","series":"TIGR4","x":243,"y":-0.15},{"panel":"C","series":"TIGR4","x":244.1,"y":0.19},{"panel":"C","series":"TIGR4","x":245.1,"y":0.77},{"panel":"C","series":"TIGR4","x":246.2,"y":0.65},{"panel":"C","series":"TIGR4","x":247.2,"y":0.83},{"panel":"C","series":"TIGR4","x":248.3,"y":0.49},{"panel":"C","series":"TIGR4","x":249.4,"y":0.8},{"panel":"C","series":"TIGR4","x":250.4,"y":0.49},{"panel":"C","series":"TIGR4","x":251.5,"y":0.4},{"panel":"C","series":"TIGR4","x":253.2,"y":0.34},{"panel":"C","series":"TIGR4","x":254.7,"y":0.09},{"panel":"C","series":"TIGR4","x":255.8,"y":-0.22},{"panel":"C","series":"TIGR4","x":257,"y":-0.68},{"panel":"C","series":"TIGR4","x":258.5,"y":-0.59},{"panel":"C","series":"TIGR4","x":260,"y":-0.22},{"panel":"C","series":"TIGR4","x":261.3,"y":0.15},{"panel":"C","series":"TIGR4","x":262.4,"y":0.37},{"panel":"C","series":"TIGR4","x":263.8,"y":0.22},{"panel":"C","series":"TIGR4","x":264.9,"y":0.34},{"panel":"C","series":"TIGR4","x":266,"y":0.09},{"panel":"C","series":"TIGR4","x":267,"y":0.43},{"panel":"C","series":"TIGR4","x":268.1,"y":0.31},{"panel":"C","series":"TIGR4","x":269.2,"y":0.12},{"panel":"C","series":"TIGR4","x":270.2,"y":-0.15},{"panel":"C","series":"TIGR4","x":271.3,"y":-0.56},{"panel":"C","series":"TIGR4","x":272.4,"y":0.09},{"panel":"C","series":"TIGR4","x":273.4,"y":-0.19},{"panel":"C","series":"TIGR4","x":274.9,"y":-0.09},{"panel":"C","series":"TIGR4","x":276.6,"y":0},{"panel":"C","series":"TIGR4","x":277.7,"y":0.12},{"panel":"C","series":"TIGR4","x":278.8,"y":0.25},{"panel":"C","series":"TIGR4","x":279.8,"y":0.93},{"panel":"C","series":"TIGR4","x":280.9,"y":0.52},{"panel":"C","series":"TIGR4","x":282,"y":0.4},{"panel":"C","series":"TIGR4","x":283,"y":0.49},{"panel":"C","series":"TIGR4","x":284.1,"y":0.37},{"panel":"C","series":"TIGR4","x":285.1,"y":0.15},{"panel":"C","series":"TIGR4","x":286.2,"y":-0.12},{"panel":"C","series":"TIGR4","x":287.3,"y":-0.43},{"panel":"C","series":"TIGR4","x":288.3,"y":-0.56},{"panel":"C","series":"TIGR4","x":289.4,"y":-0.71},{"panel":"C","series":"TIGR4","x":290.5,"y":-0.8},{"panel":"C","series":"TIGR4","x":291.5,"y":-0.96},{"panel":"C","series":"TIGR4","x":292.6,"y":-0.68},{"panel":"C","series":"TIGR4","x":293.7,"y":-0.4},{"panel":"C","series":"TIGR4","x":294.7,"y":0.03},{"panel":"C","series":"TIGR4","x":296.2,"y":0.25},{"panel":"C","series":"TIGR4","x":297.9,"y":0.19},{"panel":"C","series":"TIGR4","x":299.6,"y":0.09},{"panel":"C","series":"TIGR4","x":301.1,"y":0.06},{"panel":"C","series":"TIGR4","x":302.6,"y":0},{"panel":"C","series":"TIGR4","x":303.9,"y":0},{"panel":"C","series":"TIGR4","x":305.4,"y":-0.4},{"panel":"C","series":"TIGR4","x":306.9,"y":-0.49},{"panel":"C","series":"TIGR4","x":308.2,"y":-0.74},{"panel":"C","series":"TIGR4","x":309.2,"y":-0.43},{"panel":"C","series":"TIGR4","x":310.7,"y":-0.49},{"panel":"C","series":"TIGR4","x":312.4,"y":-0.65},{"panel":"C","series":"TIGR4","x":313.9,"y":-0.62},{"panel":"C","series":"TIGR4","x":315.4,"y":-0.46},{"panel":"C","series":"TIGR4","x":316.5,"y":0.1},{"panel":"C","series":"TIGR4","x":317.7,"y":0.37},{"panel":"C","series":"TIGR4","x":319.2,"y":0.65},{"panel":"C","series":"TIGR4","x":320.7,"y":0.46},{"panel":"C","series":"TIGR4","x":321.8,"y":0.22},{"panel":"C","series":"TIGR4","x":323,"y":0.37},{"panel":"C","series":"TIGR4","x":324.1,"y":0.22},{"panel":"C","series":"TIGR4","x":325.2,"y":-0.22},{"panel":"C","series":"TIGR4","x":326.6,"y":-0.4},{"panel":"C","series":"TIGR4","x":328.1,"y":-0.52},{"panel":"C","series":"TIGR4","x":329.4,"y":-0.46},{"panel":"C","series":"TIGR4","x":330.5,"y":-0.15},{"panel":"C","series":"TIGR4","x":332,"y":-0.03},{"panel":"C","series":"TIGR4","x":333.5,"y":0.03},{"panel":"C","series":"TIGR4","x":334.7,"y":-0.03},{"panel":"C","series":"TIGR4","x":335.8,"y":0.34},{"panel":"C","series":"TIGR4","x":336.9,"y":0.74},{"panel":"C","series":"TIGR4","x":337.9,"y":0.46},{"panel":"C","series":"TIGR4","x":339,"y":0.71},{"panel":"C","series":"TIGR4","x":340.1,"y":0.43},{"panel":"C","series":"TIGR4","x":341.1,"y":0.15},{"panel":"C","series":"TIGR4","x":342.2,"y":0.71},{"panel":"C","series":"TIGR4","x":343.3,"y":0.52},{"panel":"C","series":"TIGR4","x":344.3,"y":0.34},{"panel":"C","series":"TIGR4","x":345.4,"y":0.43},{"panel":"C","series":"TIGR4","x":346.5,"y":0.65},{"panel":"C","series":"TIGR4","x":347.5,"y":0.37},{"panel":"C","series":"TIGR4","x":348.6,"y":0.49},{"panel":"C","series":"TIGR4","x":349.7,"y":0.31},{"panel":"C","series":"TIGR4","x":350.7,"y":0.25},{"panel":"C","series":"TIGR4","x":351.8,"y":0.65},{"panel":"C","series":"TIGR4","x":352.8,"y":0.68},{"panel":"C","series":"TIGR4","x":353.9,"y":0.9},{"panel":"C","series":"TIGR4","x":355,"y":1.05},{"panel":"C","series":"TIGR4","x":356.5,"y":1.08},{"panel":"C","series":"TIGR4","x":358,"y":0.9},{"panel":"C","series":"TIGR4","x":359,"y":1.08},{"panel":"C","series":"TIGR4","x":360.3,"y":1.05},{"panel":"C","series":"TIGR4","x":361.4,"y":0.59},{"panel":"C","series":"TIGR4","x":362.4,"y":0.25},{"panel":"C","series":"TIGR4","x":363.5,"y":0.31},{"panel":"C","series":"TIGR4","x":364.6,"y":0.09},{"panel":"C","series":"TIGR4","x":365.6,"y":0},{"panel":"C","series":"TIGR4","x":366.5,"y":-0.62},{"panel":"C","series":"TIGR4","x":367.5,"y":0.09},{"panel":"C","series":"TIGR4","x":368.6,"y":-0.06},{"panel":"C","series":"TIGR4","x":369.7,"y":0.09},{"panel":"C","series":"TIGR4","x":371,"y":0.22},{"panel":"C","series":"TIGR4","x":372,"y":0.12},{"panel":"C","series":"TIGR4","x":373.1,"y":-0.03},{"panel":"C","series":"TIGR4","x":374.1,"y":0},{"panel":"C","series":"TIGR4","x":375.2,"y":-0.03},{"panel":"C","series":"TIGR4","x":376.3,"y":-0.28},{"panel":"C","series":"TIGR4","x":377.3,"y":-0.31},{"panel":"C","series":"TIGR4","x":378.4,"y":-0.4},{"panel":"C","series":"TIGR4","x":379.5,"y":-0.46},{"panel":"C","series":"TIGR4","x":380.5,"y":-0.43},{"panel":"C","series":"TIGR4","x":381.6,"y":-0.77},{"panel":"C","series":"TIGR4","x":382.7,"y":-0.56},{"panel":"C","series":"TIGR4","x":383.7,"y":-0.4},{"panel":"C","series":"TIGR4","x":384.8,"y":-0.31},{"panel":"C","series":"TIGR4","x":385.9,"y":0.06},{"panel":"C","series":"TIGR4","x":386.9,"y":-0.15},{"panel":"C","series":"TIGR4","x":388,"y":-0.34},{"panel":"C","series":"TIGR4","x":389.1,"y":-0.09},{"panel":"C","series":"TIGR4","x":390.1,"y":-0.37},{"panel":"C","series":"TIGR4","x":391.2,"y":0.31},{"panel":"C","series":"TIGR4","x":392.3,"y":-0.06},{"panel":"C","series":"TIGR4","x":393.3,"y":-0.09},{"panel":"C","series":"TIGR4","x":394.4,"y":-0.22},{"panel":"C","series":"TIGR4","x":395.2,"y":-0.46},{"panel":"C","series":"TIGR4","x":396.3,"y":-0.46},{"panel":"C","series":"TIGR4","x":397.6,"y":0.4},{"panel":"C","series":"TIGR4","x":398.6,"y":0.77},{"panel":"C","series":"TIGR4","x":400.1,"y":0.8},{"panel":"C","series":"TIGR4","x":401.6,"y":0.9},{"panel":"C","series":"TIGR4","x":402.9,"y":0.86},{"panel":"C","series":"TIGR4","x":404,"y":1.11},{"panel":"C","series":"TIGR4","x":405,"y":0.93},{"panel":"C","series":"TIGR4","x":406.1,"y":0.65},{"panel":"C","series":"TIGR4","x":407.2,"y":0.31},{"panel":"C","series":"TIGR4","x":408.2,"y":0.25},{"panel":"C","series":"TIGR4","x":409.1,"y":-0.15},{"panel":"C","series":"TIGR4","x":410.1,"y":-0.4},{"panel":"C","series":"TIGR4","x":411.2,"y":0},{"panel":"C","series":"TIGR4","x":412.3,"y":0.34},{"panel":"C","series":"TIGR4","x":413.3,"y":0.25},{"panel":"C","series":"TIGR4","x":414.4,"y":-0.22},{"panel":"C","series":"TIGR4","x":415.5,"y":0.34},{"panel":"C","series":"TIGR4","x":416.5,"y":0.65},{"panel":"C","series":"TIGR4","x":417.6,"y":0.74},{"panel":"C","series":"TIGR4","x":418.9,"y":0.83},{"panel":"C","series":"TIGR4","x":419.9,"y":0.83},
{"panel":"C","series":"Variant 4","seg":"C1","x":9.3,"y":-0.28},{"panel":"C","series":"Variant 4","seg":"C1","x":10.4,"y":-0.19},{"panel":"C","series":"Variant 4","seg":"C1","x":11.4,"y":-0.34},{"panel":"C","series":"Variant 4","seg":"C1","x":13.6,"y":-0.71},{"panel":"C","series":"Variant 4","seg":"C1","x":15.3,"y":-0.77},{"panel":"C","series":"Variant 4","seg":"C1","x":16.8,"y":-0.8},{"panel":"C","series":"Variant 4","seg":"C1","x":17.8,"y":-0.9},
{"panel":"C","series":"Variant 8","seg":"C2","x":84.3,"y":0.49},{"panel":"C","series":"Variant 8","seg":"C2","x":84.9,"y":0.37},{"panel":"C","series":"Variant 8","seg":"C2","x":87,"y":0.06},{"panel":"C","series":"Variant 8","seg":"C2","x":88.5,"y":-0.25},{"panel":"C","series":"Variant 8","seg":"C2","x":91.3,"y":-0.25},{"panel":"C","series":"Variant 8","seg":"C2","x":92.4,"y":0},{"panel":"C","series":"Variant 8","seg":"C2","x":92.8,"y":0.22},
{"panel":"C","series":"Variant 7","seg":"C3","x":98.3,"y":-0.59},{"panel":"C","series":"Variant 7","seg":"C3","x":99.8,"y":-0.3},{"panel":"C","series":"Variant 7","seg":"C3","x":100.8,"y":-0.6},{"panel":"C","series":"Variant 7","seg":"C3","x":102,"y":-0.28},{"panel":"C","series":"Variant 7","seg":"C3","x":104.1,"y":-0.25},{"panel":"C","series":"Variant 7","seg":"C3","x":106.2,"y":-0.09},{"panel":"C","series":"Variant 7","seg":"C3","x":107.3,"y":0.15},
{"panel":"C","series":"Variant 12","seg":"C4","x":197.2,"y":-0.86},{"panel":"C","series":"Variant 12","seg":"C4","x":198.2,"y":-0.8},{"panel":"C","series":"Variant 12","seg":"C4","x":199.3,"y":-1.02},{"panel":"C","series":"Variant 12","seg":"C4","x":200.4,"y":-0.9},{"panel":"C","series":"Variant 12","seg":"C4","x":202.1,"y":-0.59},{"panel":"C","series":"Variant 12","seg":"C4","x":203.5,"y":-0.22},{"panel":"C","series":"Variant 12","seg":"C4","x":204.8,"y":-0.19},{"panel":"C","series":"Variant 12","seg":"C4","x":205.7,"y":-0.34},{"panel":"C","series":"Variant 12","seg":"C4","x":207,"y":-0.71},
{"panel":"C","series":"Variant 10","seg":"C5","x":225.9,"y":-0.25},{"panel":"C","series":"Variant 10","seg":"C5","x":227.6,"y":-0.31},{"panel":"C","series":"Variant 10","seg":"C5","x":229.8,"y":-0.28},{"panel":"C","series":"Variant 10","seg":"C5","x":231.9,"y":-0.9},{"panel":"C","series":"Variant 10","seg":"C5","x":232.5,"y":-0.83},{"panel":"C","series":"Variant 10","seg":"C5","x":233.6,"y":-0.56},
{"panel":"C","series":"Variant 9","seg":"C6","x":324.1,"y":0.15},{"panel":"C","series":"Variant 9","seg":"C6","x":325.6,"y":-0.4},{"panel":"C","series":"Variant 9","seg":"C6","x":327.1,"y":-0.71},{"panel":"C","series":"Variant 9","seg":"C6","x":328.4,"y":-0.83},{"panel":"C","series":"Variant 9","seg":"C6","x":329.4,"y":-0.59},{"panel":"C","series":"Variant 9","seg":"C6","x":330.5,"y":-0.28},{"panel":"C","series":"Variant 9","seg":"C6","x":332,"y":-0.09},{"panel":"C","series":"Variant 9","seg":"C6","x":333.5,"y":0.03}
]},
"vconcat":[
{"width":653,"height":169,
"title":{"text":"[A] SP0148","offset":4,"frame":"group","dx":-22},
"transform":[{"filter":"datum.panel === 'A'"}],
"encoding":{
"x":{"field":"x","type":"quantitative","scale":{"domain":[-1.52,272.8],"nice":false,"zero":false},"axis":{"values":[1,21,41,61,81,101,121,141,161,181,201,221,241,261],"format":"d","grid":false,"domain":false,"ticks":false,"labelPadding":13,"labelFlush":false,"labelOverlap":false,"title":null}},
"y":{"field":"y","type":"quantitative","scale":{"domain":[-1.5,2],"nice":false,"zero":false},"axis":{"values":[-1.5,-1,-0.5,0,0.5,1,1.5,2],"labelExpr":"datum.value < 0 ? '-' + abs(datum.value) : '' + datum.value","ticks":false,"labelPadding":7,"grid":true,"title":null}}},
"layer":[
{"transform":[{"filter":"datum.series !== 'TIGR4'"}],"mark":{"type":"line","strokeWidth":2,"strokeJoin":"round"},
"encoding":{"detail":{"field":"seg"},"color":{"field":"series","type":"nominal","scale":{"domain":["Variant 1","Variant 2","Variant 3","Variant 4","Variant 5","Variant 6","Variant 7","Variant 8","Variant 9","Variant 10","Variant 11","Variant 12","TIGR4"],"range":["#4a6fa5","#a5514f","#8daa4f","#6b5b9b","#5fa3bf","#da8a3e","#4a80d6","#cf4a44","#a6c94d","#8c64d0","#7dbfd6","#edb062","#000000"]},"legend":{"orient":"none","legendX":82,"legendY":683,"columns":5,"direction":"horizontal","symbolType":"stroke","symbolSize":784,"symbolStrokeWidth":3,"labelFontSize":13,"labelFont":"Liberation Sans","labelColor":"#000","labelOffset":2,"columnPadding":-5,"rowPadding":4,"gridAlign":"all","padding":0,"title":null}}}},
{"transform":[{"filter":"datum.series === 'TIGR4'"}],"mark":{"type":"line","strokeWidth":2.7,"strokeJoin":"round"},
"encoding":{"color":{"field":"series","type":"nominal","scale":{"domain":["Variant 1","Variant 2","Variant 3","Variant 4","Variant 5","Variant 6","Variant 7","Variant 8","Variant 9","Variant 10","Variant 11","Variant 12","TIGR4"],"range":["#4a6fa5","#a5514f","#8daa4f","#6b5b9b","#5fa3bf","#da8a3e","#4a80d6","#cf4a44","#a6c94d","#8c64d0","#7dbfd6","#edb062","#000000"]}}}}
]},
{"width":658,"height":136,
"title":{"text":"[B] SP1912","offset":4,"frame":"group","dx":-8},
"transform":[{"filter":"datum.panel === 'B'"}],
"encoding":{
"x":{"field":"x","type":"quantitative","scale":{"domain":[0.31,91.7],"nice":false,"zero":false},"axis":{"values":[1,21,41,61,81],"format":"d","grid":false,"domain":false,"ticks":false,"labelPadding":9,"labelFlush":false,"labelOverlap":false,"title":null}},
"y":{"field":"y","type":"quantitative","scale":{"domain":[-2,2],"nice":false,"zero":false},"axis":{"values":[-2,-1.5,-1,-0.5,0,0.5,1,1.5,2],"labelExpr":"datum.value < 0 ? '-' + abs(datum.value) : '' + datum.value","ticks":false,"labelPadding":7,"grid":true,"title":null}}},
"layer":[
{"transform":[{"filter":"datum.series !== 'TIGR4'"}],"mark":{"type":"line","strokeWidth":2,"strokeJoin":"round"},
"encoding":{"detail":{"field":"seg"},"color":{"field":"series","type":"nominal","scale":{"domain":["Variant 1","Variant 2","Variant 3","Variant 4","Variant 5","Variant 6","Variant 7","Variant 8","Variant 9","Variant 10","Variant 11","Variant 12","TIGR4"],"range":["#4a6fa5","#a5514f","#8daa4f","#6b5b9b","#5fa3bf","#da8a3e","#4a80d6","#cf4a44","#a6c94d","#8c64d0","#7dbfd6","#edb062","#000000"]}}}},
{"transform":[{"filter":"datum.series === 'TIGR4'"}],"mark":{"type":"line","strokeWidth":2.7,"strokeJoin":"round"},
"encoding":{"color":{"field":"series","type":"nominal","scale":{"domain":["Variant 1","Variant 2","Variant 3","Variant 4","Variant 5","Variant 6","Variant 7","Variant 8","Variant 9","Variant 10","Variant 11","Variant 12","TIGR4"],"range":["#4a6fa5","#a5514f","#8daa4f","#6b5b9b","#5fa3bf","#da8a3e","#4a80d6","#cf4a44","#a6c94d","#8c64d0","#7dbfd6","#edb062","#000000"]}}}}
]},
{"width":658,"height":189,
"title":{"text":"[C] SP2108","offset":5,"frame":"group","dx":-8},
"transform":[{"filter":"datum.panel === 'C'"}],
"encoding":{
"x":{"field":"x","type":"quantitative","scale":{"domain":[-0.28,420.2],"nice":false,"zero":false},"axis":{"values":[1,21,41,61,81,101,121,141,161,181,201,221,241,261,281,301,321,341,361,381,401],"format":"d","grid":false,"domain":false,"ticks":false,"labelPadding":12,"labelFlush":false,"labelOverlap":false,"title":null}},
"y":{"field":"y","type":"quantitative","scale":{"domain":[-2,1.5],"nice":false,"zero":false},"axis":{"values":[-2,-1.5,-1,-0.5,0,0.5,1,1.5],"labelExpr":"datum.value < 0 ? '-' + abs(datum.value) : '' + datum.value","ticks":false,"labelPadding":7,"grid":true,"title":null}}},
"layer":[
{"transform":[{"filter":"datum.series !== 'TIGR4'"}],"mark":{"type":"line","strokeWidth":2,"strokeJoin":"round"},
"encoding":{"detail":{"field":"seg"},"color":{"field":"series","type":"nominal","scale":{"domain":["Variant 1","Variant 2","Variant 3","Variant 4","Variant 5","Variant 6","Variant 7","Variant 8","Variant 9","Variant 10","Variant 11","Variant 12","TIGR4"],"range":["#4a6fa5","#a5514f","#8daa4f","#6b5b9b","#5fa3bf","#da8a3e","#4a80d6","#cf4a44","#a6c94d","#8c64d0","#7dbfd6","#edb062","#000000"]}}}},
{"transform":[{"filter":"datum.series === 'TIGR4'"}],"mark":{"type":"line","strokeWidth":2.7,"strokeJoin":"round"},
"encoding":{"color":{"field":"series","type":"nominal","scale":{"domain":["Variant 1","Variant 2","Variant 3","Variant 4","Variant 5","Variant 6","Variant 7","Variant 8","Variant 9","Variant 10","Variant 11","Variant 12","TIGR4"],"range":["#4a6fa5","#a5514f","#8daa4f","#6b5b9b","#5fa3bf","#da8a3e","#4a80d6","#cf4a44","#a6c94d","#8c64d0","#7dbfd6","#edb062","#000000"]}}}}
]}
]
}
